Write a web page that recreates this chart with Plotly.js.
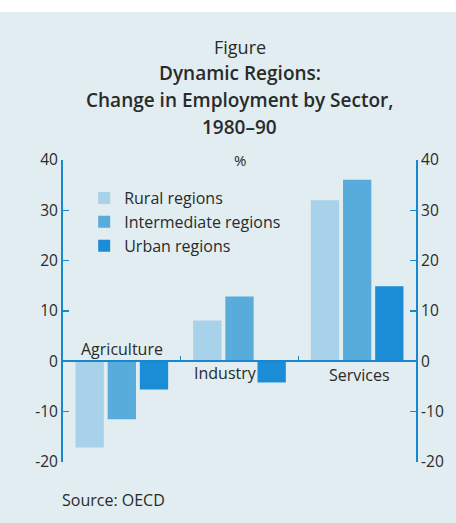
<!DOCTYPE html>
<html>
<head>
<meta charset="utf-8">
<script src="https://cdn.plot.ly/plotly-3.0.1.min.js"></script>
<style>
  html, body { margin: 0; padding: 0; background: #ffffff; }
  #chart { position: absolute; left: 0; top: 12px; width: 456px; height: 511px; }
</style>
</head>
<body>
<div id="chart"></div>
<script>
const sectors = ["Agriculture", "Industry", "Services"];
const seriesNames = ["Rural regions", "Intermediate regions", "Urban regions"];
const rural = [-17.1, 8.1, 32.0];
const intermediate = [-11.5, 12.9, 36.1];
const urban = [-5.6, -4.2, 14.9];
const yTicks = [-20, -10, 0, 10, 20, 30, 40];
const titleLines = ["Figure", "Dynamic Regions:", "Change in Employment by Sector,", "1980–90"];
const unitLabel = "%";
const sourceText = "Source: OECD";

const colors = ["#a8d1ea", "#58acdc", "#1b8dd6"];
const axisColor = "#1a86cc";
const textColor = "#2a2a2a";
const font = "Open Sans, Noto Sans, sans-serif";

const values = [rural, intermediate, urban];
const traces = seriesNames.map((n, i) => ({
  type: "bar",
  name: n,
  x: sectors,
  y: values[i],
  marker: { color: colors[i], line: { width: 0 } },
  hoverinfo: "skip"
}));
// invisible trace to activate the mirrored right-hand axis
traces.push({
  type: "scatter", mode: "none", x: sectors, y: rural, yaxis: "y2",
  showlegend: false, hoverinfo: "skip"
});

const annotations = [];
const titleY = [47, 73, 100, 127];
titleLines.forEach((t, i) => {
  annotations.push({
    text: t,
    xref: "paper", yref: "paper", x: 0.5, y: 1, yanchor: "middle", xanchor: "center",
    yshift: 160 - titleY[i], showarrow: false,
    font: { family: font, size: i === 0 ? 18 : 19, weight: i === 0 ? 400 : 600, color: textColor }
  });
});
annotations.push({
  text: unitLabel, xref: "paper", yref: "paper", x: 0.5, y: 1, yanchor: "middle",
  yshift: 0, showarrow: false, font: { family: font, size: 15, color: textColor }
});
const catShift = [12, -12, -14];
const catXShift = [0, -14, 2];
sectors.forEach((s, i) => {
  annotations.push({
    text: s, xref: "x", yref: "y", x: s, y: 0, yanchor: "middle", xanchor: "center",
    xshift: catXShift[i], yshift: catShift[i], showarrow: false,
    font: { family: font, size: 16, color: textColor }
  });
});
annotations.push({
  text: sourceText, xref: "paper", yref: "paper", x: 0, y: 0, xanchor: "left", yanchor: "middle",
  xshift: -3, yshift: -38, showarrow: false, font: { family: font, size: 16, color: textColor }
});

const axisCommon = {
  range: [-20, 40], tickvals: yTicks, ticktext: yTicks.map(String),
  showline: true, linecolor: axisColor, linewidth: 2,
  ticks: "inside", ticklen: 6, tickcolor: axisColor, tickwidth: 1.5,
  showgrid: false, zeroline: false,
  tickfont: { family: font, size: 15.5, color: textColor }, fixedrange: true
};

const layout = {
  width: 456, height: 511,
  margin: { l: 63, r: 40, t: 148, b: 61, pad: 0 },
  paper_bgcolor: "#e1edf1",
  plot_bgcolor: "rgba(0,0,0,0)",
  showlegend: true,
  legend: {
    x: 0.06, y: 0.93, xanchor: "left", yanchor: "top",
    bgcolor: "rgba(0,0,0,0)", font: { family: font, size: 16, color: textColor },
    tracegroupgap: 0, itemwidth: 30
  },
  barmode: "group",
  bargap: 0.18,
  bargroupgap: 0.12,
  xaxis: {
    type: "category",
    anchor: "free", position: 1/3,
    showline: true, linecolor: axisColor, linewidth: 2,
    ticks: "inside", tickson: "boundaries", ticklen: 4, tickcolor: axisColor, tickwidth: 1,
    showticklabels: false, showgrid: false, zeroline: false, fixedrange: true
  },
  yaxis: Object.assign({}, axisCommon),
  yaxis2: Object.assign({ overlaying: "y", side: "right", matches: "y" }, axisCommon),
  annotations: annotations
};

Plotly.newPlot("chart", traces, layout, { displayModeBar: false, staticPlot: true });
</script>
</body>
</html>
